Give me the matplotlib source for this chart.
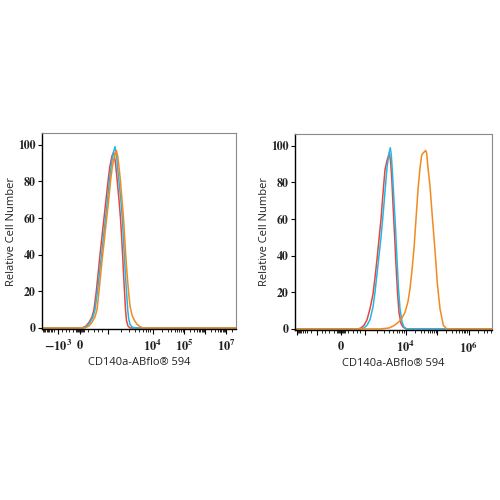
import numpy as np
import matplotlib
matplotlib.use("Agg")
import matplotlib.pyplot as plt

plt.rcParams['mathtext.fontset'] = 'stix'

# ---------------- data (x in display-channel units of each panel) ----------------
# Left panel
L_red_x = [0, 40, 44, 47, 50, 52, 54.3, 56.2, 58, 60, 62, 64, 66, 67.8, 70, 71.7, 73.5, 75.3, 77, 78.5, 79.6, 80.6, 81.5, 82.5, 83.5, 84.5, 86, 88, 194]
L_red_y = [0, 0, 1, 3, 6, 10, 20, 30, 40, 50, 60, 70, 80, 88, 94, 96, 90, 80, 70, 60, 50, 40, 30, 20, 10, 4, 1, 0, 0]

L_cyan_x = [0, 41, 45, 48, 51, 53, 55.5, 57.5, 59.5, 61.5, 63.5, 65.5, 67.3, 69, 71, 73, 74.3, 75.5, 77, 78.8, 80.3, 81.3, 82.3, 83.3, 84.5, 85.7, 86.7, 88, 90, 93, 194]
L_cyan_y = [0, 0, 1, 3, 6, 10, 20, 30, 40, 50, 60, 70, 80, 88, 95, 99, 95, 88, 80, 70, 60, 50, 40, 30, 20, 10, 5, 2, 0.5, 0, 0]

L_orange_x = [0, 43, 47, 50, 53, 55, 57, 58.8, 60.7, 62.7, 64.7, 66.7, 68.5, 70.3, 72.5, 74.3, 75.7, 77, 78.5, 80, 81.5, 82.6, 83.7, 85, 86.5, 88, 90, 92.5, 95, 98, 101, 194]
L_orange_y = [0, 0, 1, 3, 6, 10, 20, 30, 40, 50, 60, 70, 80, 88, 94, 97, 94, 88, 80, 70, 60, 50, 40, 30, 20, 12, 7, 4, 2, 0.7, 0, 0]

# Right panel
R_red_x = [0, 63, 66, 69, 72, 75, 78, 80, 82, 84, 86, 88, 90, 92, 94.3, 95.5, 96.8, 98, 99.5, 101, 102.5, 104, 106, 108, 111, 197]
R_red_y = [0, 0, 0.5, 2, 5, 11, 19, 28, 38, 49, 60, 74, 87, 92, 96, 92, 82, 68, 52, 35, 20, 9, 3, 1, 0, 0]

R_cyan_x = [0, 66, 69, 72, 75, 78, 80, 82, 84, 86, 88, 90, 92, 94, 95.3, 96.3, 97.5, 99, 100.5, 102, 103.5, 105, 107, 109, 112, 197]
R_cyan_y = [0, 0, 0.5, 2, 5, 12, 20, 30, 40, 50, 62, 75, 88, 96, 99, 95, 85, 70, 55, 38, 22, 11, 4, 1, 0, 0]

R_orange_x = [0, 86, 94, 98, 102, 105, 107, 110, 113, 115, 117, 119, 121, 123, 125, 126.7, 128, 130.7, 131.7, 133, 135, 137.5, 140, 142.3, 145, 148.3, 151.7, 197]
R_orange_y = [0, 0, 0.5, 1.5, 3, 4.5, 6, 9, 15, 22, 32, 44, 60, 76, 88, 95, 96, 97.5, 96, 88, 78, 60, 43, 25, 11, 2, 0, 0]

# axis tick definitions (position, label)
L_major_pos = [16, 38, 66, 110.5, 142, 163, 184]
L_major_lab = [r'$\mathbf{-10^{3}}$', r'$\mathbf{0}$', '', r'$\mathbf{10^{4}}$', r'$\mathbf{10^{5}}$', '', r'$\mathbf{10^{7}}$']
R_major_pos = [2, 22, 46, 70, 110.5, 142, 173.5]
R_major_lab = ['', '', r'$\mathbf{0}$', '', r'$\mathbf{10^{4}}$', '', r'$\mathbf{10^{6}}$']

y_ticks = [0, 20, 40, 60, 80, 100]

RED = '#e8453c'
CYAN = '#22b8e6'
ORANGE = '#f28a1e'


def minor_positions(decades, zero, xmax):
    """decades: list of positions of successive decade ticks (positive side)."""
    out = []
    for a, b in zip(decades[:-1], decades[1:]):
        for m in range(2, 10):
            out.append(a + np.log10(m) * (b - a))
    d = decades[-1] - decades[-2]
    for m in range(2, 10):
        p = decades[-1] + np.log10(m) * d
        if p < xmax:
            out.append(p)
    for k in range(1, 5):
        out += [zero - 1.0 * k, zero + 1.0 * k]
    return out


def neg_minor(a, b):
    return [b - np.log10(m) * (b - a) for m in range(2, 10)]


fig = plt.figure(figsize=(5, 5), dpi=100)
fig.patch.set_facecolor('white')

axL = fig.add_axes([0.084, 0.342, 0.388, 0.392])
axR = fig.add_axes([0.590, 0.340, 0.394, 0.392])

for ax, data, xmax, ylx in [
    (axL, [(L_red_x, L_red_y, RED), (L_cyan_x, L_cyan_y, CYAN), (L_orange_x, L_orange_y, ORANGE)], 194, -0.129),
    (axR, [(R_red_x, R_red_y, RED), (R_cyan_x, R_cyan_y, CYAN), (R_orange_x, R_orange_y, ORANGE)], 197, -0.127),
]:
    for x, y, c in data:
        ax.plot(x, y, color=c, lw=1.1, solid_joinstyle='round')
    ax.set_xlim(0, xmax)
    ax.set_ylim(-0.6, 106.5)
    ax.set_yticks(y_ticks)
    ax.set_yticklabels([str(v) for v in y_ticks], fontfamily='STIXGeneral',
                       fontweight='bold', fontsize=8.5, color='#222222')
    ax.tick_params(axis='y', direction='out', length=3, width=0.8, pad=1.5)
    ax.tick_params(axis='x', which='major', direction='out', length=3.5, width=0.8, pad=3.5)
    ax.tick_params(axis='x', which='minor', direction='out', length=2, width=0.6)
    for s in ['left', 'bottom']:
        ax.spines[s].set_color('black')
        ax.spines[s].set_linewidth(1.0)
    for s in ['top', 'right']:
        ax.spines[s].set_color('#8a8a8a')
        ax.spines[s].set_linewidth(0.8)
    ax.set_ylabel('Relative Cell Number', fontfamily='Open Sans', fontsize=8, color='#222222')
    ax.yaxis.set_label_coords(ylx, 0.5)
    ax.set_xlabel('CD140a-ABflo® 594', fontfamily='Open Sans', fontsize=8, labelpad=2, color='#222222')

axL.set_xticks(L_major_pos)
axL.set_xticklabels(L_major_lab, fontsize=9, color='#222222')
Lmin = minor_positions([66, 110.5, 142, 163, 184], 38, 194) + neg_minor(16 - 22, 16) + \
    [38 - (38 - 16) * f for f in [0.3, 0.5, 0.65, 0.8]] + [38 + (66 - 38) * f for f in [0.3, 0.5, 0.65, 0.8]] + \
    [2 + 2.5 * k for k in range(5)]
axL.set_xticks([p for p in Lmin if 0 < p < 194], minor=True)

axR.set_xticks(R_major_pos)
axR.set_xticklabels(R_major_lab, fontsize=9, color='#222222')
Rmin = minor_positions([70, 110.5, 142, 173.5], 46, 197) + neg_minor(2, 22) + \
    [46 - (46 - 22) * f for f in [0.3, 0.5, 0.65, 0.8]] + [46 + (70 - 46) * f for f in [0.3, 0.5, 0.65, 0.8]]
axR.set_xticks([p for p in Rmin if 0 < p < 197], minor=True)

fig.savefig('out.png', dpi=100, facecolor='white')
